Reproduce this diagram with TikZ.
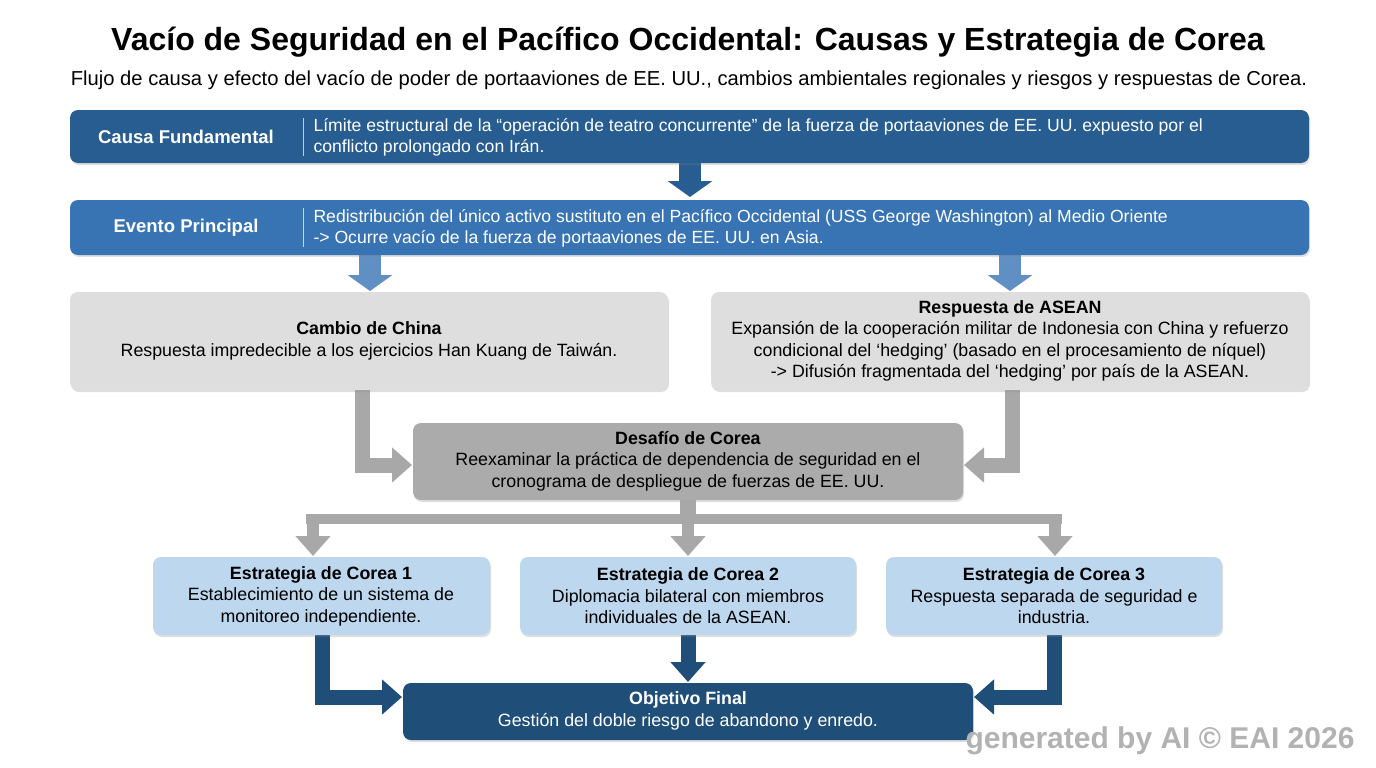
\documentclass[tikz,border=0pt]{standalone}
\usepackage{fontspec}
\setmainfont{Liberation Sans}
\usetikzlibrary{arrows.meta,shadows}
\definecolor{dblue}{HTML}{285D91}
\definecolor{mblue}{HTML}{3874B4}
\definecolor{lgray}{HTML}{DEDEDE}
\definecolor{mgray}{HTML}{ABABAB}
\definecolor{agray}{HTML}{A8A8A8}
\definecolor{lblue}{HTML}{BDD7EE}
\definecolor{fblue}{HTML}{1F4E79}
\begin{document}
\begin{tikzpicture}[x=1pt,y=-1pt,
  box/.style={rounded corners=8pt,drop shadow={opacity=0.25,shadow xshift=1pt,shadow yshift=-2pt}},
  hd/.style={font=\bfseries\fontsize{18.5}{21}\selectfont,text=white},
  tx/.style={font=\fontsize{17.6}{21}\selectfont,align=left,anchor=west,text=white},
  ct/.style={font=\fontsize{17.8}{21.5}\selectfont,align=center,text=black},
  garr/.style={agray,line width=15pt,-{Triangle[width=34pt,length=20pt]}},
  barr/.style={fblue,line width=15pt,-{Triangle[width=34pt,length=20pt]}},
  varr/.style={line width=22pt,-{Triangle[width=44pt,length=16pt]}}]
\useasboundingbox (0,0) rectangle (1376,768);
\fill[white] (0,0) rectangle (1376,768);
\node (title) at (688,42) {\bfseries\fontsize{32}{36}\selectfont Vacío de Seguridad en el Pacífico Occidental: Causas y Estrategia de Corea};
\node (sub) at (689,80) {\fontsize{20.2}{24}\selectfont Flujo de causa y efecto del vacío de poder de portaaviones de EE. UU., cambios ambientales regionales y riesgos y respuestas de Corea.};
\draw[varr,dblue] (690,160) -- (690,197);
\draw[varr,mblue!80] (370,252) -- (370,291);
\draw[varr,mblue!80] (1010,252) -- (1010,291);
\fill[box,dblue] (70,110) rectangle (1309,163);
\node[hd] (c1) at (186,137) {Causa Fundamental};
\draw[white!70!dblue] (303,118) -- (303,156);
\node[tx] (c1t) at (310,137) {Límite estructural de la “operación de teatro concurrente” de la fuerza de portaaviones de EE. UU. expuesto por el\\conflicto prolongado con Irán.};
\fill[box,mblue] (70,200) rectangle (1309,255);
\node[hd] (e1) at (186,228) {Evento Principal};
\draw[white!70!mblue] (303,208) -- (303,247);
\node[tx] (e1t) at (310,228) {Redistribución del único activo sustituto en el Pacífico Occidental (USS George Washington) al Medio Oriente\\-> Ocurre vacío de la fuerza de portaaviones de EE. UU. en Asia.};
\draw[garr] (362,390) -- (362,465) -- (412,465);
\draw[garr] (1012,390) -- (1012,465) -- (964,465);
\fill[box,lgray] (70,292) rectangle (668,390);
\node[ct] (ch) at (369,341) {\textbf{Cambio de China}\\Respuesta impredecible a los ejercicios Han Kuang de Taiwán.};
\fill[box,lgray] (711,292) rectangle (1309,390);
\node[ct] (as) at (1010,341) {\textbf{Respuesta de ASEAN}\\Expansión de la cooperación militar de Indonesia con China y refuerzo\\condicional del ‘hedging’ (basado en el procesamiento de níquel)\\-> Difusión fragmentada del ‘hedging’ por país de la ASEAN.};
\fill[box,mgray] (413,423) rectangle (963,500);
\node[ct] (ko) at (688,461) {\textbf{Desafío de Corea}\\Reexaminar la práctica de dependencia de seguridad en el\\cronograma de despliegue de fuerzas de EE. UU.};
\fill[agray] (680,500) rectangle (696,522);
\fill[agray] (306,514) rectangle (1062,524);
\draw[garr,line width=12pt] (313,519) -- (313,556);
\draw[garr,line width=12pt] (688,519) -- (688,556);
\draw[garr,line width=12pt] (1055,519) -- (1055,556);
\draw[barr] (322,630) -- (322,697) -- (402,697);
\draw[barr] (688,630) -- (688,682);
\draw[barr] (1054,630) -- (1054,697) -- (974,697);
\fill[box,lblue] (153,557) rectangle (490,635);
\node[ct] (s1) at (321,596) {\textbf{Estrategia de Corea 1}\\Establecimiento de un sistema de\\monitoreo independiente.};
\fill[box,lblue] (520,557) rectangle (856,635);
\node[ct] (s2) at (688,596) {\textbf{Estrategia de Corea 2}\\Diplomacia bilateral con miembros\\individuales de la ASEAN.};
\fill[box,lblue] (886,557) rectangle (1222,635);
\node[ct] (s3) at (1054,596) {\textbf{Estrategia de Corea 3}\\Respuesta separada de seguridad e\\industria.};
\fill[box,fblue] (403,683) rectangle (973,740);
\node[ct,text=white] (fin) at (688,711) {\textbf{Objetivo Final}\\Gestión del doble riesgo de abandono y enredo.};
\node[font=\bfseries\fontsize{30}{32}\selectfont,text=gray!60] (wm) at (1160,741) {generated by AI © EAI 2026};
\end{tikzpicture}
\end{document}
